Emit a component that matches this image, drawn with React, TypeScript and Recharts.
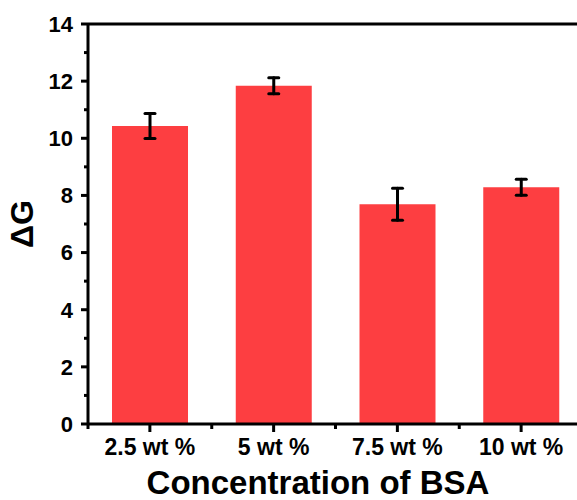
import React from 'react';
import { BarChart, Bar, XAxis, YAxis, ErrorBar, ReferenceLine, Label } from 'recharts';

const categories = ['2.5 wt %', '5 wt %', '7.5 wt %', '10 wt %'];
const deltaG = [10.43, 11.84, 7.69, 8.29];
const deltaGErr = [0.44, 0.28, 0.56, 0.28];
const yTicks = [0, 1, 2, 3, 4, 5, 6, 7, 8, 9, 10, 11, 12, 13, 14];

const data = categories.map((name, i) => ({ name, value: deltaG[i], err: deltaGErr[i] }));

const FONT = '"Liberation Sans", Arial, Helvetica, sans-serif';
const W = 600;
const H = 500;
const M = { top: 24, right: 17, left: 0, bottom: 0 };
const Y_W = 88;
const X_H = 76;
const BAND = (W - M.left - M.right - Y_W) / categories.length;

const YTick = (props: any) => {
  const { x, y, payload } = props;
  const axisX = x + 15;
  const major = payload.value % 2 === 0;
  return (
    <g>
      <line x1={axisX} x2={axisX - (major ? 7 : 4)} y1={y} y2={y} stroke="#000" strokeWidth={3} />
      {major && (
        <text x={x} y={y} dy="0.36em" textAnchor="end" fontFamily={FONT} fontWeight="bold" fontSize={22} fill="#000">
          {payload.value}
        </text>
      )}
    </g>
  );
};

const XTick = (props: any) => {
  const { x, y, payload, index } = props;
  const axisY = y - 14;
  const last = index === categories.length - 1;
  return (
    <g>
      <line x1={x} x2={x} y1={axisY} y2={axisY + 8} stroke="#000" strokeWidth={3} />
      <line x1={x - BAND / 2} x2={x - BAND / 2} y1={axisY} y2={axisY + 5} stroke="#000" strokeWidth={3} />
      {last && <line x1={x + BAND / 2} x2={x + BAND / 2} y1={axisY} y2={axisY + 5} stroke="#000" strokeWidth={3} />}
      <text x={x} y={y} dy="0.76em" textAnchor="middle" fontFamily={FONT} fontWeight="bold" fontSize={23} fill="#000">
        {payload.value}
      </text>
    </g>
  );
};

export default function App() {
  return (
    <div style={{ position: 'absolute', left: 0, top: 0, width: 577, height: 500, overflow: 'hidden', background: '#fff' }}>
      <BarChart width={W} height={H} data={data} margin={M} barCategoryGap="19.4%">
        <XAxis
          dataKey="name"
          height={X_H}
          tickSize={8}
          tickMargin={6}
          tickLine={false}
          tick={<XTick />}
          interval={0}
          axisLine={{ stroke: '#000', strokeWidth: 3 }}
        >
          <Label
            content={(p: any) => (
              <text
                x={p.viewBox.x + 230}
                y={p.viewBox.y + 70}
                textAnchor="middle"
                fontFamily={FONT}
                fontWeight="bold"
                fontSize={33}
                fill="#000"
              >
                Concentration of BSA
              </text>
            )}
          />
        </XAxis>
        <YAxis
          width={Y_W}
          domain={[0, 14]}
          ticks={yTicks}
          interval={0}
          tickSize={7}
          tickMargin={8}
          tickLine={false}
          tick={<YTick />}
          axisLine={{ stroke: '#000', strokeWidth: 3 }}
        >
          <Label
            content={(p: any) => {
              const cx = p.viewBox.x + 22;
              const cy = p.viewBox.y + p.viewBox.height / 2;
              return (
                <text
                  x={cx}
                  y={cy}
                  transform={`rotate(-90 ${cx} ${cy})`}
                  textAnchor="middle"
                  dominantBaseline="central"
                  fontFamily={FONT}
                  fontWeight="bold"
                  fontSize={32}
                  fill="#000"
                >
                  ΔG
                </text>
              );
            }}
          />
        </YAxis>
        <ReferenceLine y={14} stroke="#000" strokeWidth={3} ifOverflow="visible" />
        <Bar dataKey="value" fill="#fd3e41" isAnimationActive={false}>
          <ErrorBar dataKey="err" width={5} strokeWidth={3} stroke="#000" strokeLinecap="round" />
        </Bar>
      </BarChart>
    </div>
  );
}
